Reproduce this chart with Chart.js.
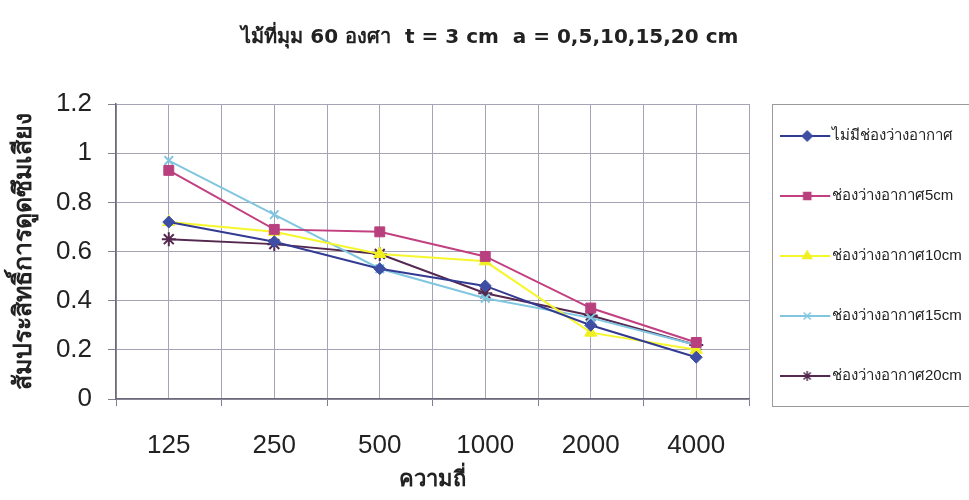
<!DOCTYPE html>
<html>
<head>
<meta charset="utf-8">
<script src="https://cdn.jsdelivr.net/npm/chart.js@4.4.1/dist/chart.umd.min.js"></script>
<style>
  html, body { margin: 0; padding: 0; background: #fff; }
  #wrap { width: 969px; height: 500px; }
</style>
</head>
<body>
<div id="wrap"><canvas id="chart"></canvas></div>
<script>
const chartTitle = 'ไม้ที่มุม 60 องศา  t = 3 cm  a = 0,5,10,15,20 cm';
const xTitle = 'ความถี่';
const yTitle = 'สัมประสิทธิ์การดูดซึมเสียง';

const frequencies = ['125', '250', '500', '1000', '2000', '4000'];

const seriesNames = [
  'ไม่มีช่องว่างอากาศ',
  'ช่องว่างอากาศ5cm',
  'ช่องว่างอากาศ10cm',
  'ช่องว่างอากาศ15cm',
  'ช่องว่างอากาศ20cm'
];

const noGap  = [0.72, 0.64, 0.53, 0.46, 0.30, 0.17];
const gap5   = [0.93, 0.69, 0.68, 0.58, 0.37, 0.23];
const gap10  = [0.72, 0.68, 0.59, 0.56, 0.27, 0.20];
const gap15  = [0.97, 0.75, 0.53, 0.41, 0.33, 0.22];
const gap20  = [0.65, 0.63, 0.59, 0.43, 0.34, 0.22];

const lineColors   = ['#333a92', '#c23f80', '#f6f62c', '#80c6e0', '#55284f'];
const markerColors = ['#3d4ea4', '#b8407e', '#f0f020', '#80c6e0', '#55284f'];
const markers      = ['rectRot', 'rect', 'triangle', 'crossRot', 'star'];
const markerSizes  = [6, 7, 7, 6, 7];

const font = "'Liberation Sans', Arial, sans-serif";
const wideFont = "'DejaVu Sans', sans-serif";
const legendFontSize = 15;
const legendPad = 45;
const swatchBox = 30.5;

// legend swatch: short line with the marker in the middle
function legendSwatch(i) {
  const c = document.createElement('canvas');
  c.width = 58; c.height = 16;
  const g = c.getContext('2d');
  g.strokeStyle = lineColors[i];
  g.lineWidth = 2;
  g.beginPath(); g.moveTo(0, 8); g.lineTo(50, 8); g.stroke();
  g.fillStyle = markerColors[i];
  g.strokeStyle = markerColors[i];
  g.lineWidth = 1.5;
  Chart.helpers.drawPoint(g, { pointStyle: markers[i], radius: 5, borderWidth: 1.5 }, 27, 8);
  return c;
}

// the legend is 220px wide in the picture; pad the right side to keep the plot there
const measure = document.createElement('canvas').getContext('2d');
measure.font = legendFontSize + 'px ' + font;
const widestText = Math.max(...seriesNames.map(s => measure.measureText(s).width));
const legendWidth = legendPad + swatchBox + legendFontSize / 2 + widestText + 10;
const rightPad = 220 - legendWidth;

const legendBox = {
  id: 'legendBox',
  afterDraw(chart) {
    const ctx = chart.ctx;
    const a = chart.chartArea;
    ctx.save();
    ctx.strokeStyle = '#9a9a9a';
    ctx.lineWidth = 1;
    ctx.strokeRect(772.5, a.top + 0.5, 220, 302);
    ctx.restore();
  }
};

const allSeries = [noGap, gap5, gap10, gap15, gap20];

const datasets = allSeries.map((vals, i) => ({
  label: seriesNames[i],
  data: vals,
  borderColor: lineColors[i],
  backgroundColor: markerColors[i],
  pointStyle: markers[i],
  pointRadius: markerSizes[i],
  pointBorderColor: markerColors[i],
  pointBackgroundColor: markerColors[i],
  pointBorderWidth: (markers[i] == 'crossRot' || markers[i] == 'star') ? 2 : 1,
  borderWidth: 2,
  tension: 0,
  xAxisID: 'x'
}));

new Chart(document.getElementById('chart'), {
  type: 'line',
  data: { labels: frequencies, datasets: datasets },
  options: {
    responsive: true,
    maintainAspectRatio: false,
    animation: false,
    layout: { padding: { top: 18, left: 8, right: rightPad, bottom: 6 } },
    plugins: {
      title: {
        display: true,
        text: chartTitle,
        color: '#222',
        font: { family: wideFont, size: 20, weight: 'bold' },
        padding: { top: 8, bottom: 54 }
      },
      legend: {
        position: 'right',
        labels: {
          color: '#222',
          font: { family: font, size: legendFontSize },
          padding: legendPad,
          usePointStyle: true,
          pointStyleWidth: swatchBox,
          generateLabels(chart) {
            const items = Chart.defaults.plugins.legend.labels.generateLabels(chart);
            items.forEach((it, i) => { it.pointStyle = legendSwatch(i); });
            return items;
          }
        }
      },
      tooltip: { enabled: false }
    },
    scales: {
      x: {
        type: 'category',
        offset: true,
        grid: { offset: true, color: '#a4a4b4', tickLength: 7, tickColor: '#808090' },
        border: { color: '#6a6a7a', width: 1.5 },
        ticks: { color: '#222', font: { family: font, size: 26 }, padding: 24, maxRotation: 0 },
        title: {
          display: true, text: xTitle, color: '#222',
          font: { family: font, size: 22, weight: 'bold' }, padding: { top: -18.8, bottom: 1.2 }
        }
      },
      x2: {
        type: 'category',
        labels: frequencies,
        offset: true,
        position: 'bottom',
        grid: { offset: false, color: '#a4a4b4', drawTicks: false },
        border: { display: false },
        ticks: { display: false }
      },
      y: {
        min: 0,
        max: 1.2,
        ticks: {
          stepSize: 0.2, color: '#222', font: { family: font, size: 26 }, padding: 16,
          callback: v => String(Math.round(v * 10) / 10)
        },
        grid: { color: '#a4a4b4', tickLength: 8, tickColor: '#808090' },
        border: { color: '#6a6a7a', width: 1.5 },
        title: {
          display: true, text: yTitle, color: '#222',
          font: { family: font, size: 25, weight: 'bold' }, padding: { top: 1.4, bottom: 0.5 }
        }
      }
    }
  },
  plugins: [legendBox]
});
</script>
</body>
</html>
